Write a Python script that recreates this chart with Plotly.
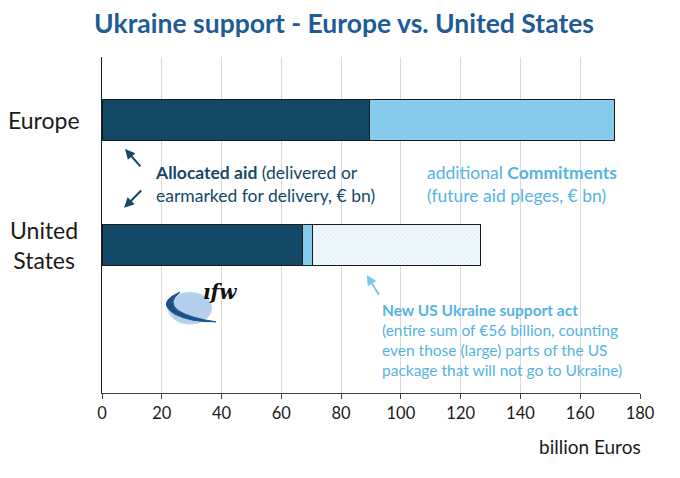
import plotly.graph_objects as go

regions = ["Europe", "United States"]
region_labels = ["Europe", "United<br>States"]
allocated = [89.4, 67.2]
commitments = [82.1, 3.3]
new_us_act = [0, 56]
x_ticks = [0, 20, 40, 60, 80, 100, 120, 140, 160, 180]

dark = "#134866"
light = "#85cbec"
txt_light = "#55b3e3"

fig = go.Figure()
fig.add_trace(go.Bar(
    y=regions, x=allocated, orientation="h", name="Allocated aid",
    marker=dict(color=dark, line=dict(color="#1a1a1a", width=1)),
    width=0.33, hoverinfo="x",
))
fig.add_trace(go.Bar(
    y=regions, x=commitments, orientation="h", name="Commitments",
    marker=dict(color=light, line=dict(color="#1a1a1a", width=1)),
    width=0.33, hoverinfo="x",
))
fig.add_trace(go.Bar(
    y=regions, x=new_us_act, orientation="h", name="New US act",
    marker=dict(
        color="#e6f4fb", line=dict(color="#1a1a1a", width=1),
        pattern=dict(shape="x", fgcolor="#b5dcf0", bgcolor="#f3fafd", size=3, solidity=0.3),
    ),
    width=0.33, hoverinfo="x",
))

# page body has an 8px margin, so the figure is sized to fit the window
fig.update_layout(
    barmode="stack",
    width=672, height=470,
    margin=dict(l=94, r=40, t=49, b=85),
    paper_bgcolor="white", plot_bgcolor="white",
    showlegend=False,
    font=dict(family="Lato", size=16, color="#1a1a1a"),
    title=dict(
        text="<b>Ukraine support - Europe vs. United States</b>",
        x=0.5, xanchor="center", y=0.966, yanchor="middle",
        font=dict(family="Lato", size=26.5, color="#1f5b95"),
    ),
    xaxis=dict(
        range=[0, 180], tickvals=x_ticks, showgrid=True, gridcolor="#d9d9d9",
        zeroline=False, showline=True, linecolor="#404040", linewidth=1,
        ticks="outside", ticklen=5, tickcolor="#404040",
        tickfont=dict(size=16.5, color="#1a1a1a"), automargin=False,
    ),
    yaxis=dict(
        categoryorder="array", categoryarray=regions,
        showticklabels=False,
        range=[2.184, -0.504], showgrid=False, zeroline=False,
        showline=True, linecolor="#1a1a1a", linewidth=1, ticks="",
        automargin=False,
    ),
)

# category labels, centred like the original
for reg, lab in zip(regions, region_labels):
    fig.add_annotation(
        xref="paper", yref="y", x=-0.108, y=reg, xanchor="center", yanchor="middle",
        text=lab, showarrow=False, align="center",
        font=dict(size=23, color="#1a1a1a"),
    )

fig.add_annotation(
    xref="paper", yref="paper", x=1.005, y=-0.16, xanchor="right", yanchor="middle",
    text="billion Euros", showarrow=False, font=dict(size=19, color="#1a1a1a"),
)

fig.add_annotation(
    xref="x", yref="paper", x=16.9, y=0.622, xanchor="left", yanchor="middle",
    text="<b>Allocated aid</b> (delivered or<br>earmarked for delivery, € bn)",
    showarrow=False, align="left", font=dict(size=17.5, color=dark),
)
fig.add_annotation(
    xref="x", yref="paper", x=108.0, y=0.622, xanchor="left", yanchor="middle",
    text="additional <b>Commitments</b><br>(future aid pleges, € bn)",
    showarrow=False, align="left", font=dict(size=17.5, color=txt_light),
)
fig.add_annotation(
    xref="x", yref="paper", x=93.0, y=0.158, xanchor="left", yanchor="middle",
    text="<b>New US Ukraine support act</b><br>(entire sum of €56 billion, counting<br>"
         "even those (large) parts of the US<br>package that will not go to Ukraine)",
    showarrow=False, align="left", font=dict(size=15.5, color=txt_light),
)

# arrows
fig.add_annotation(
    xref="x", yref="y domain", x=7.7, y=0.726, ax=13.3, ay=0.670, axref="x", ayref="y domain",
    text="", showarrow=True, arrowhead=2, arrowsize=1, arrowwidth=2, arrowcolor=dark,
)
fig.add_annotation(
    xref="x", yref="y domain", x=7.4, y=0.551, ax=13.6, ay=0.607, axref="x", ayref="y domain",
    text="", showarrow=True, arrowhead=2, arrowsize=1, arrowwidth=2, arrowcolor=dark,
)
fig.add_annotation(
    xref="x", yref="y domain", x=88.6, y=0.351, ax=93.0, ay=0.287, axref="x", ayref="y domain",
    text="", showarrow=True, arrowhead=2, arrowsize=1, arrowwidth=2, arrowcolor="#7cc6ea",
)

# ifw logo
fig.add_shape(
    type="circle", xref="paper", yref="paper",
    x0=0.123, x1=0.204, y0=0.205, y1=0.30,
    fillcolor="#b3cfec", line=dict(color="#c7dbf1", width=1), layer="above",
)
fig.add_shape(
    type="path", xref="paper", yref="paper",
    path="M 0.145 0.300 Q 0.100 0.270 0.135 0.235 Q 0.165 0.210 0.212 0.212"
         " Q 0.165 0.222 0.142 0.245 Q 0.120 0.270 0.145 0.300 Z",
    fillcolor="#1c4f8c", line=dict(color="#1c4f8c", width=1), layer="above",
)
fig.add_annotation(
    xref="paper", yref="paper", x=0.219, y=0.30, xanchor="center", yanchor="middle",
    text="<b><i>ıfw</i></b>", showarrow=False,
    font=dict(family="DejaVu Serif", size=20, color="#111111"),
)

fig.write_html("out.html")
